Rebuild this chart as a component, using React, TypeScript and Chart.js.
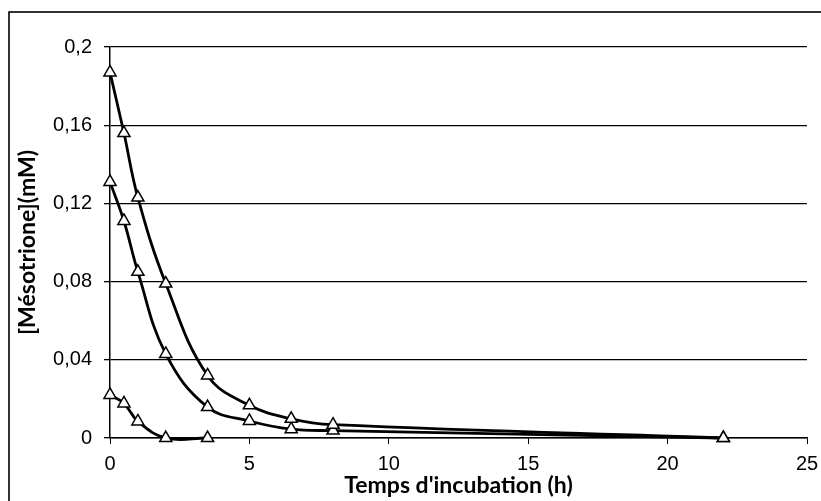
import React, { useEffect, useRef } from "react";
import { Chart, registerables } from "chart.js";

Chart.register(...registerables);

const timesH = [0, 0.5, 1, 2, 3.5, 5, 6.5, 8, 22];
const seriesHigh = [0.187, 0.156, 0.123, 0.079, 0.032, 0.0167, 0.0098, 0.0068, 0];
const seriesMid = [0.131, 0.111, 0.085, 0.043, 0.0158, 0.0087, 0.0045, 0.0038, 0];
const timesLow = [0, 0.5, 1, 2, 3.5];
const seriesLow = [0.022, 0.0177, 0.0085, 0, 0];

const yTickLabels = ["0", "0,04", "0,08", "0,12", "0,16", "0,2"];
const xTickLabels = ["0", "5", "10", "15", "20", "25"];

const yTitle = "[Mésotrione](mM)";
const xTitle = "Temps d'incubation (h)";

const toPoints = (xs: number[], ys: number[]) => xs.map((x, i) => ({ x, y: ys[i] }));

const frame = {
  id: "outerFrame",
  beforeDraw(chart: any) {
    const ctx = chart.ctx;
    ctx.save();
    ctx.fillStyle = "#ffffff";
    ctx.fillRect(0, 0, chart.width, chart.height);
    ctx.strokeStyle = "#000000";
    ctx.lineWidth = 1.6;
    ctx.strokeRect(9, 12, chart.width + 20, chart.height + 20);
    ctx.restore();
  },
};

export default function App() {
  const ref = useRef<HTMLCanvasElement | null>(null);

  useEffect(() => {
    if (!ref.current) return;
    const ds = (xs: number[], ys: number[]) => ({
      data: toPoints(xs, ys),
      showLine: true,
      borderColor: "#000000",
      borderWidth: 2.8,
      tension: 0.4,
      capBezierPoints: false,
      pointStyle: "triangle",
      pointRadius: 7,
      pointBorderWidth: 1.5,
      pointBorderColor: "#000000",
      pointBackgroundColor: "#ffffff",
      clip: false as any,
    });
    const titleFont = { family: "Lato, 'Open Sans', sans-serif", size: 23, weight: "bold" as const };
    const chart = new Chart(ref.current, {
      type: "scatter",
      data: {
        datasets: [ds(timesH, seriesHigh), ds(timesH, seriesMid), ds(timesLow, seriesLow)],
      },
      plugins: [frame],
      options: {
        animation: false,
        responsive: false,
        events: [],
        layout: { padding: { left: 0, top: 47, right: 14, bottom: 0 } },
        plugins: { legend: { display: false }, tooltip: { enabled: false } },
        scales: {
          x: {
            type: "linear",
            min: 0,
            max: 25,
            afterFit: (s: any) => {
              s.height = 63;
              s.paddingLeft = 0;
              s.paddingRight = 0;
            },
            ticks: {
              stepSize: 5,
              padding: 8,
              color: "#000000",
              font: { family: "'Liberation Sans', Arial, sans-serif", size: 20 },
              callback: (_v: any, i: number) => xTickLabels[i],
            },
            grid: { drawOnChartArea: false, drawTicks: true, tickLength: 6, color: "#000000" },
            border: { color: "#000000", width: 1.5 },
            title: {
              display: true,
              text: xTitle,
              color: "#000000",
              font: titleFont,
              padding: { top: 0, bottom: 2 },
            },
          },
          y: {
            min: 0,
            max: 0.2,
            afterFit: (s: any) => {
              s.width = 110;
              s.paddingTop = 0;
              s.paddingBottom = 0;
            },
            ticks: {
              stepSize: 0.04,
              padding: 12,
              color: "#000000",
              font: { family: "'Liberation Sans', Arial, sans-serif", size: 20 },
              callback: (_v: any, i: number) => yTickLabels[i],
            },
            grid: { drawTicks: true, tickLength: 6, color: "#000000", lineWidth: 1.3 },
            border: { color: "#000000", width: 1.5 },
            title: {
              display: true,
              text: yTitle,
              color: "#000000",
              font: titleFont,
              padding: { top: 14, bottom: 0 },
            },
          },
        },
      },
    });
    return () => chart.destroy();
  }, []);

  return (
    <div style={{ position: "fixed", left: 0, top: 0, width: 821, height: 501, background: "#fff" }}>
      <canvas ref={ref} width={821} height={501} />
    </div>
  );
}
